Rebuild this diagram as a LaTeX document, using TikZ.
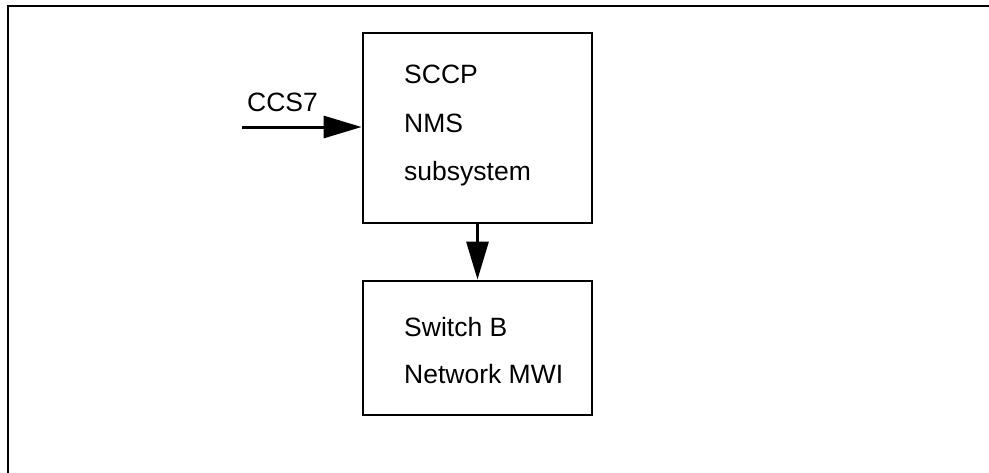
\documentclass[tikz,border=0pt]{standalone}
\usepackage{fontspec}
\setmainfont{Liberation Sans}
\usetikzlibrary{arrows.meta}
\begin{document}
\begin{tikzpicture}[x=1pt,y=-1pt,
  blockbox/.style={draw=black,line width=2.8pt,inner sep=0pt},
  label/.style={anchor=base west,inner sep=0pt,font=\fontsize{26.5}{31}\selectfont},
  flow/.style={line width=3pt,-{Triangle[length=38pt,width=22pt]}}]
\useasboundingbox (0,0) rectangle (989,472);
\fill[white] (0,0) rectangle (989,472);
% outer frame (only its top and left edges fall inside the page)
\draw[line width=2.2pt] (8,480) -- (8,6) -- (1000,6);
% blocks
\node[blockbox,minimum width=229pt,minimum height=190pt] (nms) at (477.5,128) {};
\node[blockbox,minimum width=229pt,minimum height=134pt] (mwi) at (477.5,348) {};
% block texts
\node[label] (t1) at (404,83) {SCCP};
\node[label] (t2) at (404,132) {NMS};
\node[label] (t3) at (404,180) {subsystem};
\node[label] (t4) at (404,336) {Switch B};
\node[label] (t5) at (404,383) {Network MWI};
% incoming signalling link
\coordinate (src) at (242,127);
\node[label] (ccs) at (247,111) {CCS7};
\draw[flow] (src) -- (nms.west |- src);
\draw[flow] (nms.south) -- (mwi.north);
\end{tikzpicture}
\end{document}
